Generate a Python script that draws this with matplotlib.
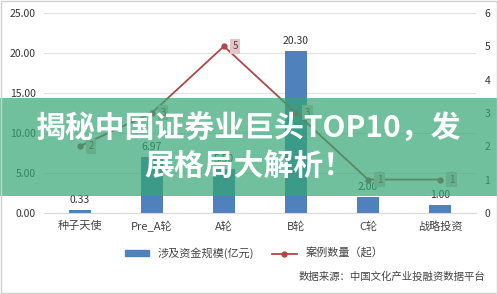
import matplotlib.pyplot as plt
import matplotlib.patches as mpatches
from matplotlib.lines import Line2D
import numpy as np

plt.rcParams['font.family'] = ['Noto Sans CJK SC', 'DejaVu Sans']

stages = ["种子天使", "Pre_A轮", "A轮", "B轮", "C轮", "战略投资"]
funds = [0.33, 6.97, 5.50, 20.30, 2.00, 1.00]
cases = [2, 3, 5, 3, 1, 1]

fig = plt.figure(figsize=(4.98, 2.94), dpi=100)
ax = fig.add_axes([0.088, 0.276, 0.868, 0.68])
ax2 = ax.twinx()

x = np.arange(len(stages))
ax.bar(x, funds, width=0.31, color="#4F81BD", zorder=2)
for xi, v in zip(x, funds):
    ax.text(xi, v + 0.6, f"{v:.2f}", ha="center", va="bottom", fontsize=7.5, color="#333333")

ax.set_ylim(0, 25)
ax.set_yticks(np.arange(0, 26, 5))
ax.set_yticklabels([f"{t:.2f}" for t in np.arange(0, 26, 5)], fontsize=7.5, color="#333333")
ax.set_xlim(-0.5, len(stages) - 0.5)
ax.set_xticks(x)
ax.set_xticklabels(stages, fontsize=8, color="#444444")
ax.grid(axis="y", color="#E3E3E3", linewidth=0.8, zorder=0)
ax.set_axisbelow(True)
ax.tick_params(length=0, pad=6)
for s in ax.spines.values():
    s.set_visible(False)
ax.spines["bottom"].set_visible(True)
ax.spines["bottom"].set_color("#D9D9D9")

ax2.plot(x, cases, color="#B0474A", linewidth=1.3, marker="o", markersize=3.5, zorder=3)
for xi, v in zip(x, cases):
    ax2.text(xi + 0.12, v, str(v), ha="left", va="center", fontsize=7, color="#444444",
             bbox=dict(boxstyle="square,pad=0.25", fc="#E8C4C4", ec="none"))
ax2.set_ylim(0, 6)
ax2.set_yticks(range(7))
ax2.set_yticklabels([str(t) for t in range(7)], fontsize=7.5, color="#333333")
ax2.tick_params(length=0, pad=6)
for s in ax2.spines.values():
    s.set_visible(False)

handles = [mpatches.Patch(color="#4F81BD", label="涉及资金规模(亿元)"),
           Line2D([0], [0], color="#B0474A", marker="o", markersize=3.5, linewidth=1.3, label="案例数量（起）")]
fig.legend(handles=handles, loc="center", bbox_to_anchor=(0.51, 0.138), ncol=2, frameon=False,
           fontsize=8, handlelength=2.2, columnspacing=1.6, handleheight=0.5,
           labelcolor="#444444")

fig.text(0.975, 0.058, "数据来源：中国文化产业投融资数据平台", ha="right", va="center",
         fontsize=7.5, color="#444444")

# green title band over the chart
fig.patches.append(mpatches.Rectangle((0, 0.333), 1, 0.334, transform=fig.transFigure,
                                      facecolor="#34A574", alpha=0.7, edgecolor="none", zorder=10))
fig.text(0.5, 0.563, "揭秘中国证券业巨头TOP10，发", ha="center", va="center", fontsize=21.5,
         fontweight="heavy", color="white", zorder=11)
fig.text(0.5, 0.435, "展格局大解析！", ha="center", va="center", fontsize=21.5,
         fontweight="heavy", color="white", zorder=11)

fig.patches.append(mpatches.Rectangle((0.002, 0.003), 0.996, 0.994, transform=fig.transFigure,
                                      facecolor="none", edgecolor="#D0D0D0", linewidth=1, zorder=12))

fig.savefig("out.png", dpi=100)
